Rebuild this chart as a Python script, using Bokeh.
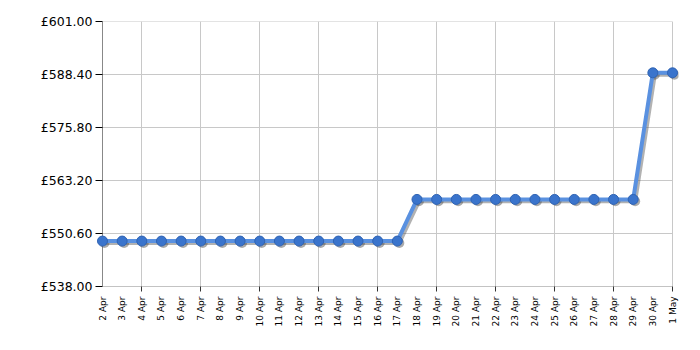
from bokeh.plotting import figure
from bokeh.models import Range1d, FixedTicker, ColumnDataSource
from bokeh.embed import file_html
from bokeh.resources import INLINE

dates = ["2 Apr", "3 Apr", "4 Apr", "5 Apr", "6 Apr", "7 Apr", "8 Apr", "9 Apr",
         "10 Apr", "11 Apr", "12 Apr", "13 Apr", "14 Apr", "15 Apr", "16 Apr",
         "17 Apr", "18 Apr", "19 Apr", "20 Apr", "21 Apr", "22 Apr", "23 Apr",
         "24 Apr", "25 Apr", "26 Apr", "27 Apr", "28 Apr", "29 Apr", "30 Apr", "1 May"]
prices = [548.8] * 16 + [558.7] * 12 + [588.8] * 2
y_ticks = [538.00, 550.60, 563.20, 575.80, 588.40, 601.00]

n = len(dates)
xs = list(range(n))
src = ColumnDataSource(dict(x=xs, y=prices))
shadow = ColumnDataSource(dict(x=[v + 0.1 for v in xs], y=[v - 0.45 for v in prices]))

# a little padding so the end markers are not clipped by the frame
pad = 6 * (n - 1) / 570.0

p = figure(width=700, height=350, output_backend="svg", toolbar_location=None,
           x_range=Range1d(-pad, n - 1 + pad), y_range=Range1d(y_ticks[0], y_ticks[-1]),
           min_border_left=96, min_border_right=22, min_border_top=21, min_border_bottom=64)
p.outline_line_color = None
p.background_fill_color = "white"

font = "DejaVu Sans"
grid_col = "#c8c8c8"
axis_col = "#888888"

# x axis
major = list(range(n))
minor = [i for i in major if i % 3 == 2]
p.xaxis.ticker = FixedTicker(ticks=major, minor_ticks=minor)
p.xaxis.major_label_overrides = {i: d for i, d in enumerate(dates)}
p.xaxis.major_label_orientation = 1.5708
p.xaxis.major_label_text_font = font
p.xaxis.major_label_text_font_size = "9px"
p.xaxis.major_label_text_color = "#000000"
p.xaxis.major_tick_line_color = None
p.xaxis.minor_tick_out = 5
p.xaxis.minor_tick_in = 0
p.xaxis.minor_tick_line_color = "#333333"
p.xaxis.axis_line_color = None
p.xaxis.major_label_standoff = 4
p.xgrid.ticker = FixedTicker(ticks=minor)
p.xgrid.grid_line_color = grid_col

# y axis
p.yaxis.ticker = FixedTicker(ticks=y_ticks)
p.yaxis.major_label_overrides = {t: "£%.2f" % t for t in y_ticks}
p.yaxis.major_label_text_font = font
p.yaxis.major_label_text_font_size = "12.5px"
p.yaxis.major_label_text_color = "#000000"
p.yaxis.major_tick_out = 1
p.yaxis.major_tick_in = 6
p.yaxis.major_tick_line_color = "#000000"
p.yaxis.minor_tick_line_color = None
p.yaxis.axis_line_color = None
p.yaxis.major_label_standoff = 3
p.ygrid.grid_line_color = None

# horizontal grid lines and axis lines limited to the data span
p.segment(x0=[0] * (len(y_ticks) - 1), x1=[n - 1] * (len(y_ticks) - 1),
          y0=y_ticks[1:], y1=y_ticks[1:], line_color=grid_col, line_width=1)
p.segment(x0=[0], x1=[n - 1], y0=[y_ticks[0]], y1=[y_ticks[0]], line_color=axis_col, line_width=1)
p.segment(x0=[0], x1=[0], y0=[y_ticks[0]], y1=[y_ticks[-1]], line_color=axis_col, line_width=1)

p.line("x", "y", source=shadow, line_color="#555555", line_alpha=0.45, line_width=4)
p.scatter("x", "y", source=shadow, size=10, fill_color="#444444", fill_alpha=0.45, line_color=None)
p.line("x", "y", source=src, line_color="#5a91e0", line_width=4)
p.scatter("x", "y", source=src, size=10, fill_color="#3a74cc", line_color="#2f63b3", line_width=1)

open("out.html", "w").write(file_html(p, INLINE))
